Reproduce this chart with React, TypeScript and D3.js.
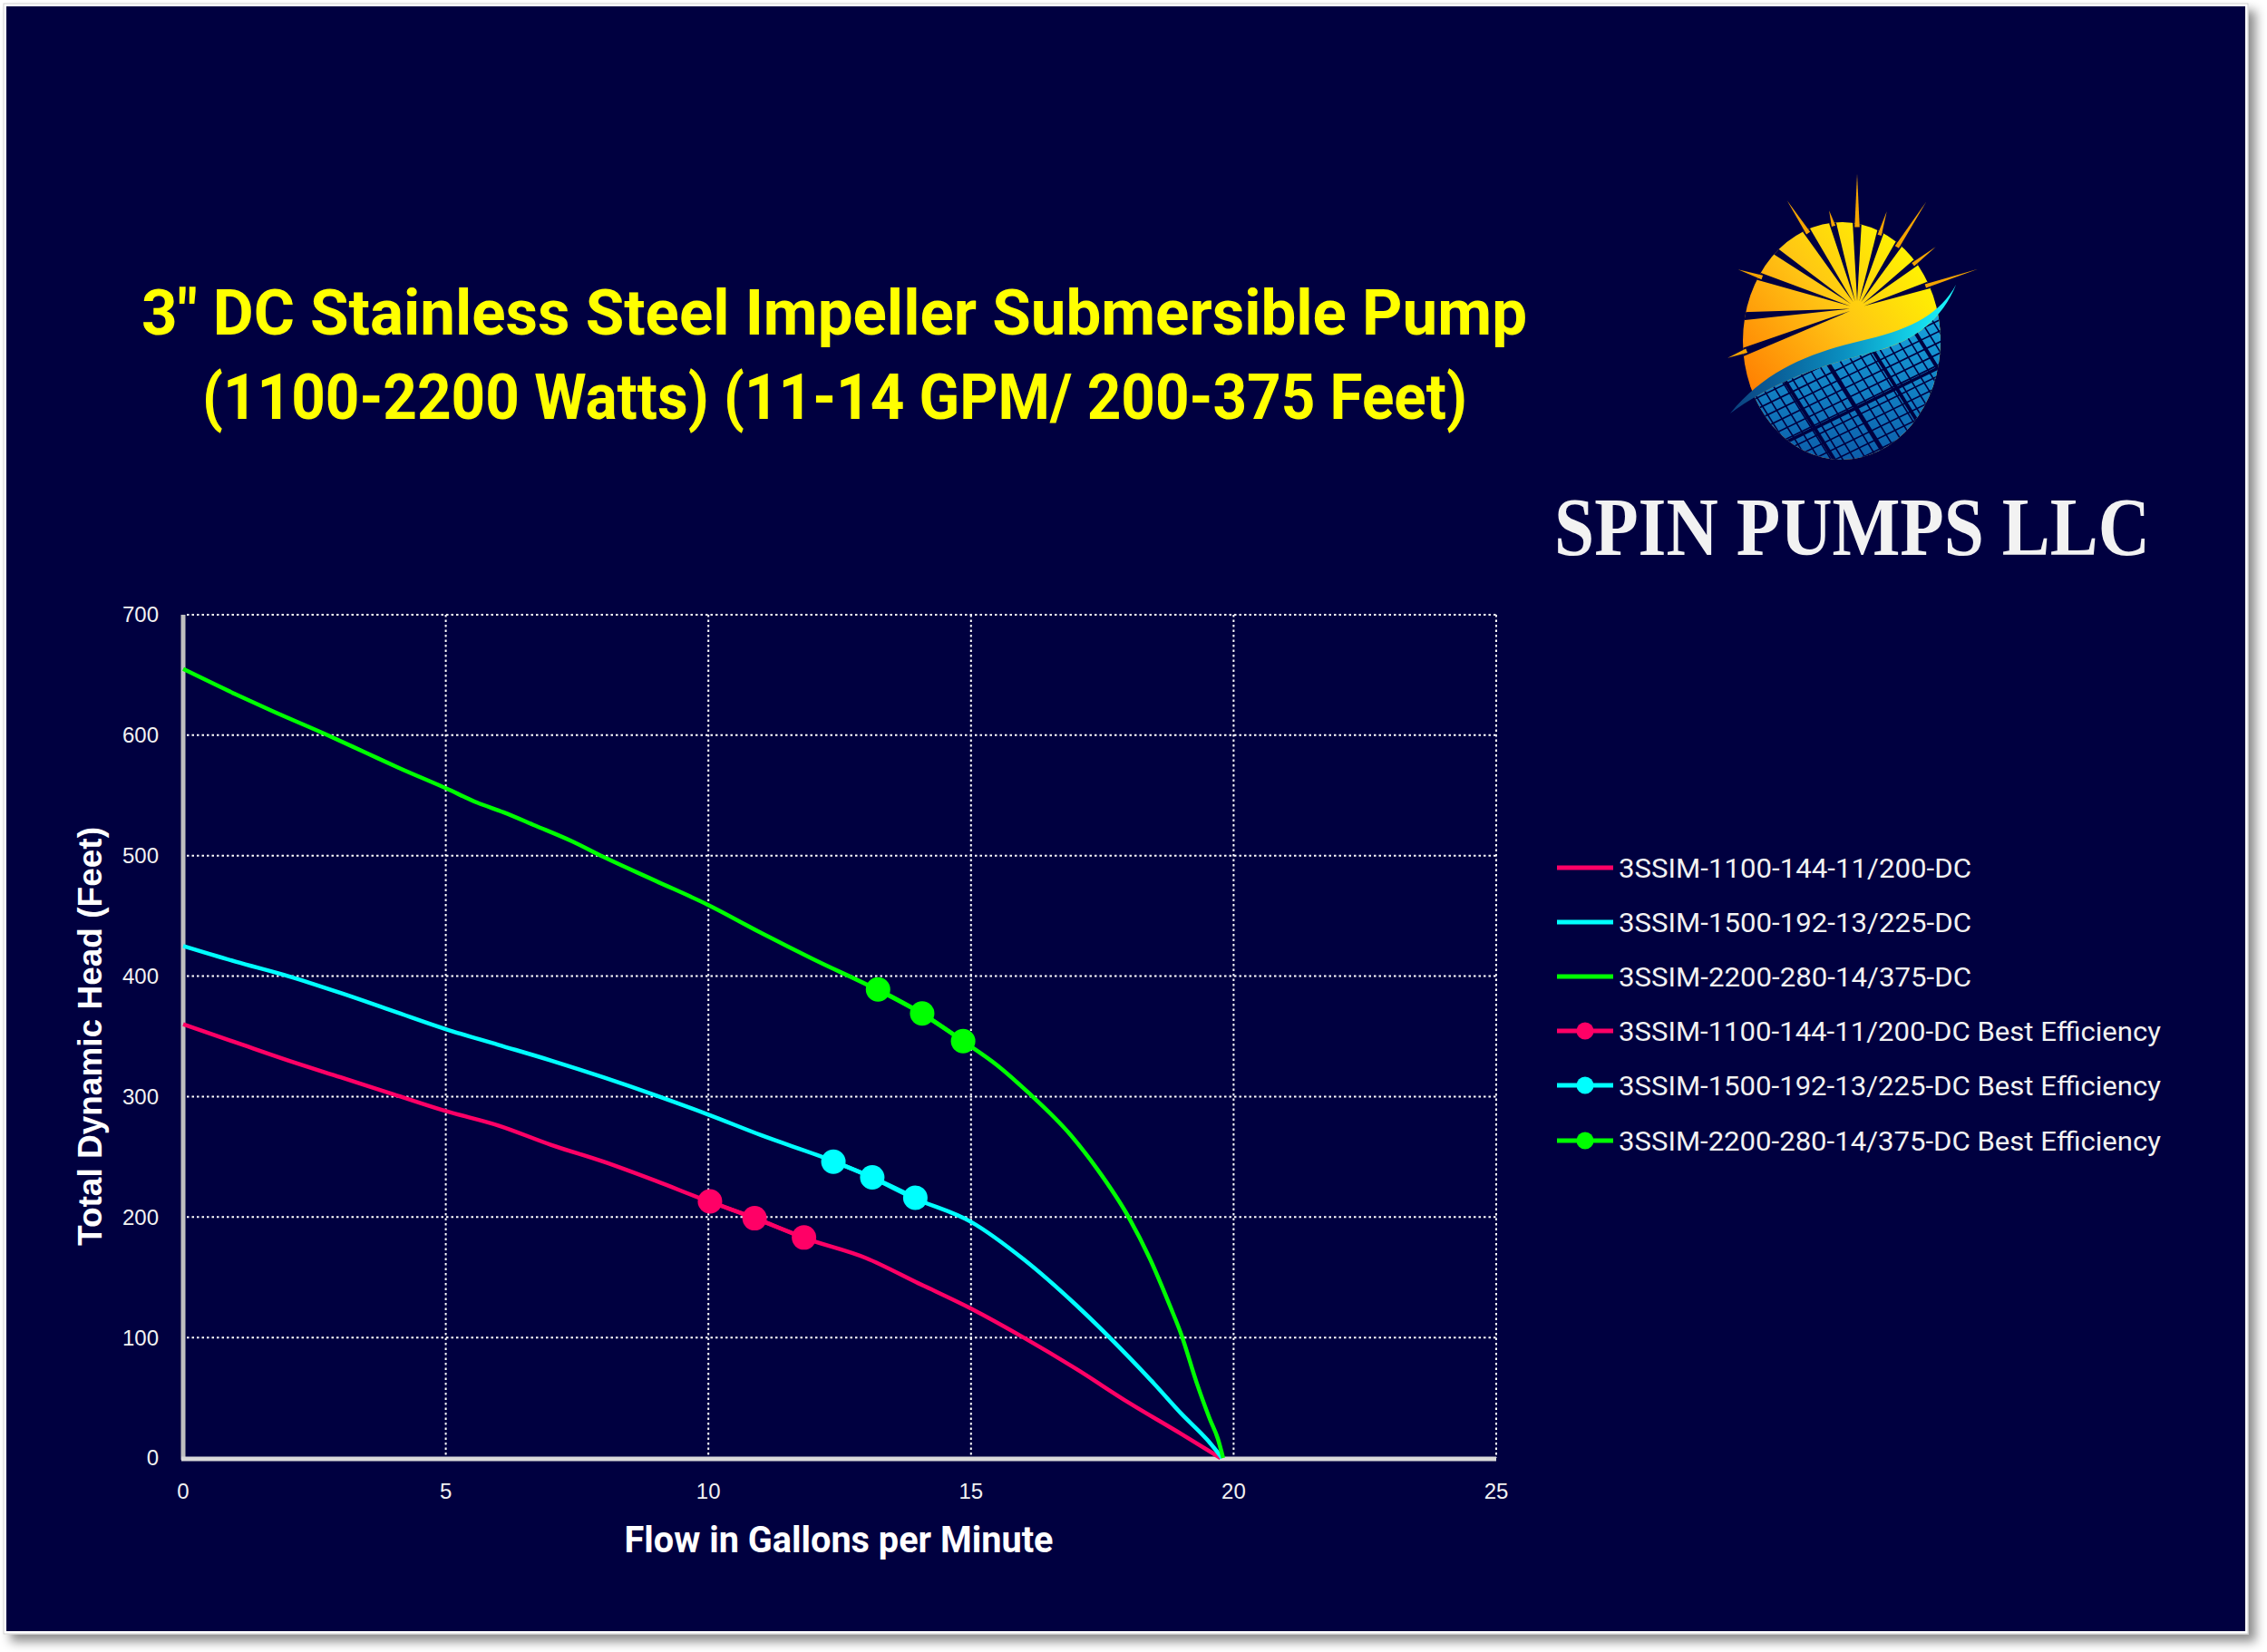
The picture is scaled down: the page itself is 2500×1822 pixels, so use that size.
import React from "react";
import * as d3 from "d3";

const W = 2500;
const H = 1822;

// pump curves (flow gpm / head ft)
const flow1100 = [0, 1, 2, 3, 4, 5, 6, 7, 8, 9, 10, 10.9, 11.8, 13, 14, 15, 16, 17, 18, 19, 19.75];
const head1100 = [360, 345, 330, 316, 302, 288, 276, 260, 246, 230, 213, 199, 183, 166, 145, 124, 100, 74, 46, 20, 0];

const flow1500 = [0, 1, 2, 3, 4, 5, 6, 7, 8, 9, 10, 11, 12.4, 13.1, 13.9, 15, 16, 17, 18, 18.5, 19, 19.5, 19.78];
const head1500 = [425, 412, 400, 386, 371, 356, 343, 330, 316, 301, 285, 268, 246, 233, 216, 196, 165, 127, 84, 61, 37, 15, 0];

const flow2200 = [0, 1, 1.7, 2.7, 3.5, 4.1, 5, 5.6, 6.1, 6.7, 7.4, 8, 9, 10, 11, 12, 13.2, 14.05, 14.85, 15.5, 16.1, 16.9, 17.4, 18, 18.4, 18.8, 19, 19.3, 19.55, 19.7, 19.8];
const head2200 = [655, 634, 620, 601, 585, 573, 556, 544, 536, 525, 512, 499, 479, 459, 436, 414, 389, 369, 346, 326, 303, 268, 240, 200, 166, 125, 103, 62, 32, 16, 0];

// best efficiency points
const bepFlow1100 = [10.03, 10.88, 11.82];
const bepHead1100 = [213, 199, 183];
const bepFlow1500 = [12.38, 13.12, 13.94];
const bepHead1500 = [246, 233, 216];
const bepFlow2200 = [13.23, 14.07, 14.85];
const bepHead2200 = [389, 369, 346];

const models = ["3SSIM-1100-144-11/200-DC", "3SSIM-1500-192-13/225-DC", "3SSIM-2200-280-14/375-DC"];
const colors = ["#FF0066", "#00FFFF", "#00FF00"];
const xTicks = [0, 5, 10, 15, 20, 25];
const yTicks = [0, 100, 200, 300, 400, 500, 600, 700];

const BG = "#000040";

const x = d3.scaleLinear().domain([0, 25]).range([202, 1650]);
const y = d3.scaleLinear().domain([0, 700]).range([1608, 678]);

const zip = (xs: number[], ys: number[]) => xs.map((v, i) => [v, ys[i]] as [number, number]);

const curves = [zip(flow1100, head1100), zip(flow1500, head1500), zip(flow2200, head2200)];
const beps = [zip(bepFlow1100, bepHead1100), zip(bepFlow1500, bepHead1500), zip(bepFlow2200, bepHead2200)];

const line = d3
  .line<[number, number]>()
  .x((d) => x(d[0]))
  .y((d) => y(d[1]))
  .curve(d3.curveMonotoneX);

// ---- logo geometry ----
const ecx = 2031, ecy = 376, erx = 109, ery = 131;
const rcx = 2048, rcy = 340;
const rays = [
  { a: -90, tip: 148, w: 5 },
  { a: -106, tip: 112, w: 4 },
  { a: -73, tip: 112, w: 4 },
  { a: -123, tip: 142, w: 4.5 },
  { a: -57, tip: 140, w: 4.5 },
  { a: -145, tip: 0, w: 4 },
  { a: -38, tip: 110, w: 4 },
  { a: -162, tip: 138, w: 4.5 },
  { a: -18, tip: 140, w: 4 },
  { a: 176, tip: 0, w: 4.5 },
  { a: 159, tip: 153, w: 4.5 },
];

function edgeDist(ang: number) {
  const c = Math.cos(ang), s = Math.sin(ang);
  const dx = rcx - ecx, dy = rcy - ecy;
  const A = (c * c) / (erx * erx) + (s * s) / (ery * ery);
  const B = 2 * ((dx * c) / (erx * erx) + (dy * s) / (ery * ery));
  const C = (dx * dx) / (erx * erx) + (dy * dy) / (ery * ery) - 1;
  return (-B + Math.sqrt(B * B - 4 * A * C)) / (2 * A);
}

const Logo = () => {
  const wedges = rays.map((r, i) => {
    const ang = (r.a * Math.PI) / 180;
    const ux = Math.cos(ang), uy = Math.sin(ang);
    const nx = -uy, ny = ux;
    const e = edgeDist(ang);
    const p0 = [rcx + ux * 8, rcy + uy * 8];
    const e2 = e + 3;
    const p1 = [rcx + ux * e2 + nx * r.w, rcy + uy * e2 + ny * r.w];
    const p2 = [rcx + ux * e2 - nx * r.w, rcy + uy * e2 - ny * r.w];
    const wedge = `M${p0}L${p1}L${p2}Z`;
    let spike = null;
    if (r.tip > e) {
      const b1 = [rcx + ux * (e - 4) + nx * r.w * 0.55, rcy + uy * (e - 4) + ny * r.w * 0.55];
      const b2 = [rcx + ux * (e - 4) - nx * r.w * 0.55, rcy + uy * (e - 4) - ny * r.w * 0.55];
      const t = [rcx + ux * r.tip, rcy + uy * r.tip];
      spike = `M${b1}L${t}L${b2}Z`;
    }
    return { wedge, spike, key: i };
  });

  const swooshTop = "M1908,456 C1950,405 2000,388 2060,374 C2110,362 2140,345 2157,314";
  const swoosh =
    swooshTop + " C2142,352 2112,375 2070,387 C2010,403 1960,418 1908,456 Z";
  const blue =
    "M1908,456 C1960,418 2010,403 2070,387 C2112,375 2142,352 2157,314 L2300,314 L2300,620 L1800,620 L1800,456 Z";

  const thinA = d3.range(-200, 240, 11);
  const thinB = d3.range(-200, 240, 11);
  const thickA = d3.range(-200, 240, 50);
  const thickB = d3.range(-180, 240, 64);

  return (
    <g>
      <defs>
        <linearGradient id="sunG" x1="0.8" y1="0.05" x2="0.05" y2="0.8">
          <stop offset="0" stopColor="#FFF500" />
          <stop offset="0.45" stopColor="#FFC414" />
          <stop offset="1" stopColor="#FF7800" />
        </linearGradient>
        <linearGradient id="blueG" x1="0" y1="0" x2="0" y2="1">
          <stop offset="0" stopColor="#1BB8EC" />
          <stop offset="1" stopColor="#0B58A6" />
        </linearGradient>
        <linearGradient id="swG" x1="0" y1="0" x2="1" y2="0">
          <stop offset="0" stopColor="#0B3F7E" />
          <stop offset="0.5" stopColor="#0A8FC0" />
          <stop offset="1" stopColor="#19FAFF" />
        </linearGradient>
        <clipPath id="ellClip">
          <ellipse cx={ecx} cy={ecy} rx={erx} ry={ery} />
        </clipPath>
        <clipPath id="blueClip">
          <path d={blue} />
        </clipPath>
      </defs>
      <ellipse cx={ecx} cy={ecy} rx={erx} ry={ery} fill="url(#sunG)" />
      <g clipPath="url(#ellClip)">
        {wedges.map((w) => (
          <path key={w.key} d={w.wedge} fill={BG} />
        ))}
      </g>
      {wedges.map((w) =>
        w.spike ? <path key={"s" + w.key} d={w.spike} fill="#F4A400" /> : null
      )}
      <g clipPath="url(#ellClip)">
        <g clipPath="url(#blueClip)">
          <rect x={1900} y={300} width={260} height={220} fill="url(#blueG)" />
          <g transform={`translate(2040,440) rotate(58)`} stroke={BG}>
            {thinA.map((v) => (
              <line key={"ta" + v} x1={-260} x2={260} y1={v} y2={v} strokeWidth={1.6} />
            ))}
            {thickA.map((v) => (
              <line key={"ka" + v} x1={-260} x2={260} y1={v} y2={v} strokeWidth={4} />
            ))}
          </g>
          <g transform={`translate(2040,440) rotate(-26)`} stroke={BG}>
            {thinB.map((v) => (
              <line key={"tb" + v} x1={-260} x2={260} y1={v} y2={v} strokeWidth={1.6} />
            ))}
            {thickB.map((v) => (
              <line key={"kb" + v} x1={-260} x2={260} y1={v} y2={v} strokeWidth={3.5} />
            ))}
          </g>
        </g>
      </g>
      <path d={swoosh} fill="url(#swG)" />
      <text
        x={1714}
        y={612}
        fill="#F2F2F2"
        fontFamily="'Liberation Serif', 'DejaVu Serif', serif"
        fontWeight={700}
        fontSize={92}
        textLength={657}
        lengthAdjust="spacingAndGlyphs"
      >
        SPIN PUMPS LLC
      </text>
    </g>
  );
};

const App = () => {
  const legendY = [957, 1017, 1077, 1137, 1197, 1258];
  const legendItems = [
    ...models.map((m, i) => ({ label: m, color: colors[i], marker: false, len: 389 })),
    ...models.map((m, i) => ({ label: m + " Best Efficiency", color: colors[i], marker: true, len: 598 })),
  ];

  return (
    <svg
      width={W}
      height={H}
      viewBox={`0 0 ${W} ${H}`}
      style={{ position: "absolute", left: 0, top: 0, display: "block" }}
    >
      <defs>
        <filter id="shadow" x="-5%" y="-5%" width="110%" height="110%">
          <feDropShadow dx="8" dy="8" stdDeviation="6" floodColor="#000" floodOpacity="0.45" />
        </filter>
      </defs>
      <rect width={W} height={H} fill="#FFFFFF" />
      <rect x={4} y={4} width={2475} height={1798} fill="#FFFFFF" stroke="#D0D0D0" strokeWidth={1} filter="url(#shadow)" />
      <rect x={7} y={7} width={2469} height={1792} fill={BG} />

      {/* title */}
      <g fill="#FFFF00" fontFamily="Roboto, 'Liberation Sans', sans-serif" fontWeight={700} fontSize={70}>
        <text x={156} y={369} textLength={1528} lengthAdjust="spacingAndGlyphs">
          3" DC Stainless Steel Impeller Submersible Pump
        </text>
        <text x={223} y={462} textLength={1395} lengthAdjust="spacingAndGlyphs">
          (1100-2200 Watts) (11-14 GPM/ 200-375 Feet)
        </text>
      </g>

      <Logo />

      {/* grid */}
      <g stroke="#FFFFFF" strokeWidth={2} strokeDasharray="2.5 3">
        {yTicks.slice(1).map((t) => (
          <line key={"gy" + t} x1={x(0) + 4} x2={x(25)} y1={y(t)} y2={y(t)} />
        ))}
        {xTicks.slice(1).map((t) => (
          <line key={"gx" + t} x1={x(t)} x2={x(t)} y1={y(700)} y2={y(0)} />
        ))}
      </g>

      {/* axes */}
      <line x1={x(0)} x2={x(0)} y1={y(700)} y2={y(0) + 2} stroke="#BFBFBF" strokeWidth={5} />
      <line x1={x(0) - 2} x2={x(25)} y1={y(0) + 1} y2={y(0) + 1} stroke="#D9D9D9" strokeWidth={5} />

      <g fill="#F2F2F2" fontFamily="'Liberation Sans', Arial, sans-serif" fontSize={24}>
        {yTicks.map((t) => (
          <text key={"ty" + t} x={175} y={y(t)} dy="0.35em" textAnchor="end">
            {t}
          </text>
        ))}
        {xTicks.map((t) => (
          <text key={"tx" + t} x={x(t)} y={1653} textAnchor="middle">
            {t}
          </text>
        ))}
      </g>

      <text
        x={925}
        y={1712}
        textAnchor="middle"
        fill="#FFFFFF"
        fontFamily="Roboto, 'Liberation Sans', sans-serif"
        fontWeight={700}
        fontSize={40}
        textLength={473}
        lengthAdjust="spacingAndGlyphs"
      >
        Flow in Gallons per Minute
      </text>
      <text
        transform={`translate(112,${(y(0) + y(700)) / 2}) rotate(-90)`}
        textAnchor="middle"
        fill="#FFFFFF"
        fontFamily="'Liberation Sans', Arial, sans-serif"
        fontWeight={700}
        fontSize={37}
      >
        Total Dynamic Head (Feet)
      </text>

      {/* curves */}
      {curves.map((c, i) => (
        <path key={"c" + i} d={line(c) || ""} fill="none" stroke={colors[i]} strokeWidth={4.5} strokeLinejoin="round" />
      ))}
      {beps.map((b, i) => (
        <g key={"b" + i}>
          <path d={line(b) || ""} fill="none" stroke={colors[i]} strokeWidth={4.5} />
          {b.map((p, j) => (
            <circle key={j} cx={x(p[0])} cy={y(p[1])} r={13.5} fill={colors[i]} />
          ))}
        </g>
      ))}

      {/* legend */}
      <g fontFamily="Roboto, 'Liberation Sans', sans-serif" fontSize={30} fill="#F2F2F2">
        {legendItems.map((it, i) => (
          <g key={"l" + i} transform={`translate(0,${legendY[i]})`}>
            <line x1={1717} x2={1779} y1={0} y2={0} stroke={it.color} strokeWidth={5} />
            {it.marker && <circle cx={1748} cy={0} r={9.5} fill={it.color} />}
            <text x={1785} y={0} dy="0.36em" textLength={it.len} lengthAdjust="spacingAndGlyphs">
              {it.label}
            </text>
          </g>
        ))}
      </g>
    </svg>
  );
};

export default App;
